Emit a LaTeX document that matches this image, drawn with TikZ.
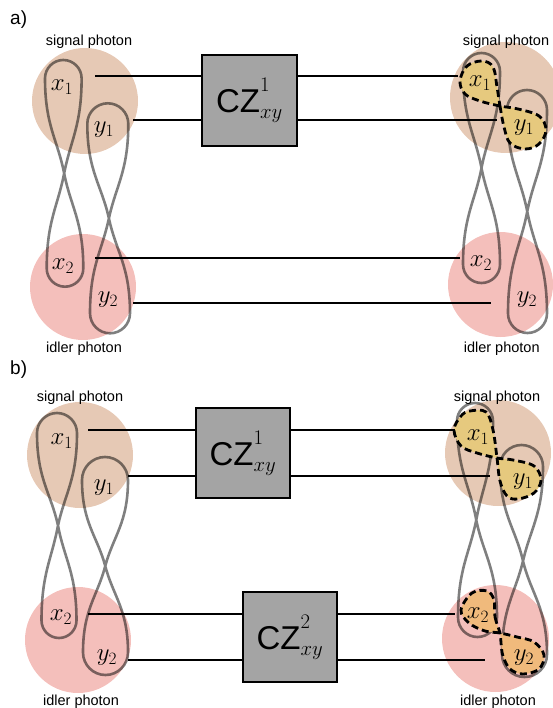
\documentclass[tikz,border=0pt]{standalone}
\usepackage{fontspec}
\newfontfamily\lab{Liberation Sans}
\DeclareMathSizes{28}{28}{16}{12}
\definecolor{sigcol}{HTML}{E6C9B5}
\definecolor{idlcol}{HTML}{F4BFBB}
\definecolor{yelcol}{HTML}{E6C97E}
\definecolor{orgcol}{HTML}{F0BA7C}
\definecolor{gatefill}{HTML}{A4A4A4}
\newcommand\gatescripts[1]{{}^{\raisebox{12pt}{\fontsize{21}{24}\selectfont$#1$}}_{\mbox{\fontsize{21}{24}\selectfont$xy$}}}
\newcommand\figeightloop[6]{%
 \pgfmathsetmacro\fxa{#1}\pgfmathsetmacro\fya{#2}\pgfmathsetmacro\fwa{#3}%
 \pgfmathsetmacro\fxb{#4}\pgfmathsetmacro\fyb{#5}\pgfmathsetmacro\fwb{#6}%
 \pgfmathsetmacro\fmx{(\fxa+\fxb)/2}\pgfmathsetmacro\fmy{(\fya+\fyb)/2}%
 \pgfmathsetmacro\fLa{\fmy-\fya-\fwa}\pgfmathsetmacro\fLb{\fyb-\fwb-\fmy}%
 \draw[loopline] (\fmx,\fmy)
   .. controls ({\fmx+0.35*\fwa},{\fmy-0.35*\fLa}) and ({\fxa+\fwa},{\fya+\fwa+0.5*\fLa}) .. ({\fxa+\fwa},{\fya+\fwa})
   .. controls ({\fxa+\fwa},{\fya+0.45*\fwa}) and ({\fxa+0.55*\fwa},{\fya}) .. (\fxa,\fya)
   .. controls ({\fxa-0.55*\fwa},{\fya}) and ({\fxa-\fwa},{\fya+0.45*\fwa}) .. ({\fxa-\fwa},{\fya+\fwa})
   .. controls ({\fxa-\fwa},{\fya+\fwa+0.5*\fLa}) and ({\fmx-0.35*\fwa},{\fmy-0.35*\fLa}) .. (\fmx,\fmy)
   .. controls ({\fmx+0.35*\fwb},{\fmy+0.35*\fLb}) and ({\fxb+\fwb},{\fyb-\fwb-0.5*\fLb}) .. ({\fxb+\fwb},{\fyb-\fwb})
   .. controls ({\fxb+\fwb},{\fyb-0.45*\fwb}) and ({\fxb+0.55*\fwb},{\fyb}) .. (\fxb,\fyb)
   .. controls ({\fxb-0.55*\fwb},{\fyb}) and ({\fxb-\fwb},{\fyb-0.45*\fwb}) .. ({\fxb-\fwb},{\fyb-\fwb})
   .. controls ({\fxb-\fwb},{\fyb-\fwb-0.5*\fLb}) and ({\fmx-0.35*\fwb},{\fmy+0.35*\fLb}) .. (\fmx,\fmy) -- cycle;}
\begin{document}
\begin{tikzpicture}[x=1pt,y=-1pt,
 loopline/.style={draw=black, draw opacity=0.5, line width=2.6pt},
 wire/.style={line width=1.4pt},
 gate/.style={draw=black, fill=gatefill, line width=1.4pt, minimum width=94pt, minimum height=90pt, inner sep=0pt},
 blob/.style={draw=black, line width=2.8pt, dash pattern=on 7pt off 4pt},
 qlabel/.style={inner sep=0pt, font=\fontsize{28}{32}\selectfont},
 photon/.style={font=\lab\fontsize{14.5}{17}\selectfont, anchor=base, inner sep=0pt},
 panel/.style={font=\lab\fontsize{19}{22}\selectfont, anchor=base west, inner sep=0pt},
 gatetext/.style={font=\lab\fontsize{33}{40}\selectfont}]
\useasboundingbox (0,0) rectangle (553,708);
\clip (0,0) rectangle (553,708);
% photon circles
\fill[sigcol] (85,101) circle[radius=53];
\fill[idlcol] (83,287) circle[radius=53];
\fill[sigcol] (505.5,97.5) circle[radius=55.5];
\fill[idlcol] (500.5,284.5) circle[radius=52.5];
\fill[sigcol] (80,455) circle[radius=53];
\fill[idlcol] (78,640) circle[radius=53];
\fill[sigcol] (498,453) circle[radius=53];
\fill[idlcol] (495.5,638.5) circle[radius=53.5];
% loops
\figeightloop{63.3}{60}{18.3}{65}{286.7}{18.3}
\figeightloop{107.8}{103.3}{20.5}{110}{333.3}{20}
\figeightloop{481.5}{53}{18.5}{481.5}{283}{18.5}
\figeightloop{527}{90}{20}{527.5}{333}{19.5}
\figeightloop{57}{413}{20}{59}{638}{17.5}
\figeightloop{105}{457}{23}{105.5}{675}{22.5}
\figeightloop{475}{403}{18}{477.5}{637}{19.5}
\figeightloop{521.5}{445}{21.5}{524.5}{677}{22.5}
% dashed entangled regions
\draw[blob, fill=yelcol] plot[smooth cycle, tension=0.6] coordinates {(497,87) (500,106) (504,127) (510,143) (525,149) (539,144) (546,130) (539,116) (518,109) (500,106) (480,101) (465,94) (460,81) (467,66) (482,61) (493,67)};
\draw[blob, fill=yelcol] plot[smooth cycle, tension=0.6] coordinates {(493,430) (497,458) (500,481) (507,496) (518,499) (534,493) (541,480) (534,466) (513,460) (497,458) (477,453) (461,446) (454,430) (461,416) (470,411) (486,412)};
\draw[blob, fill=orgcol] plot[smooth cycle, tension=0.6] coordinates {(494,600) (495,617) (500,633) (501,643) (503,656) (510,669) (523,674) (539,669) (544,655) (534,642) (517,637) (500,633) (485,631) (469,623) (461,610) (472,593) (487,591)};
% mode labels
\node[qlabel] (ax1) at (62,87) {$x_1$};
\node[qlabel] (ay1) at (104,130) {$y_1$};
\node[qlabel] (ax2) at (63,266) {$x_2$};
\node[qlabel] (ay2) at (108,300) {$y_2$};
\node[qlabel] (rx1) at (480,83) {$x_1$};
\node[qlabel] (ry1) at (524,128) {$y_1$};
\node[qlabel] (rx2) at (481,263) {$x_2$};
\node[qlabel] (ry2) at (527,300) {$y_2$};
\node[qlabel] (bx1) at (61.7,440.8) {$x_1$};
\node[qlabel] (by1) at (104,488) {$y_1$};
\node[qlabel] (bx2) at (61,617) {$x_2$};
\node[qlabel] (by2) at (107,657.5) {$y_2$};
\node[qlabel] (sx1) at (478,437.5) {$x_1$};
\node[qlabel] (sy1) at (523,481.7) {$y_1$};
\node[qlabel] (sx2) at (478,615) {$x_2$};
\node[qlabel] (sy2) at (524,658) {$y_2$};
% photon names and panel letters
\node[photon] (as) at (89,46) {signal photon};
\node[photon] (ai) at (84,352) {idler photon};
\node[photon] (asr) at (506,46) {signal photon};
\node[photon] (air) at (501.7,352) {idler photon};
\node[photon] (bs) at (80,401) {signal photon};
\node[photon] (bi) at (81,705.5) {idler photon};
\node[photon] (bsr) at (497,401) {signal photon};
\node[photon] (bir) at (498,705.5) {idler photon};
\node[panel] (pa) at (10,25) {a)};
\node[panel] (pb) at (10,374) {b)};
% gates
\node[gate, gatetext, minimum width=95pt, minimum height=91pt] (ga) at (249.5,100.5) {CZ$\gatescripts{1}$};
\node[gate, gatetext] (gb1) at (243,453) {CZ$\gatescripts{1}$};
\node[gate, gatetext] (gb2) at (290,637) {CZ$\gatescripts{2}$};
% wires panel a
\coordinate (a1s) at (95,76);   \coordinate (a1e) at (458,76);
\coordinate (a2s) at (133,120); \coordinate (a2e) at (497,120);
\coordinate (a3s) at (95,258);  \coordinate (a3e) at (460,258);
\coordinate (a4s) at (133,303); \coordinate (a4e) at (491,303);
\draw[wire] (a1s) -- (a1s -| ga.west);
\draw[wire] (a1s -| ga.east) -- (a1e);
\draw[wire] (a2s) -- (a2s -| ga.west);
\draw[wire] (a2s -| ga.east) -- (a2e);
\draw[wire] (a3s) -- (a3e);
\draw[wire] (a4s) -- (a4e);
% wires panel b
\coordinate (b1s) at (88,430);  \coordinate (b1e) at (455,430);
\coordinate (b2s) at (128,476); \coordinate (b2e) at (490,476);
\coordinate (b3s) at (88,614);  \coordinate (b3e) at (455,614);
\coordinate (b4s) at (128,660); \coordinate (b4e) at (485,660);
\draw[wire] (b1s) -- (b1s -| gb1.west);
\draw[wire] (b1s -| gb1.east) -- (b1e);
\draw[wire] (b2s) -- (b2s -| gb1.west);
\draw[wire] (b2s -| gb1.east) -- (b2e);
\draw[wire] (b3s) -- (b3s -| gb2.west);
\draw[wire] (b3s -| gb2.east) -- (b3e);
\draw[wire] (b4s) -- (b4s -| gb2.west);
\draw[wire] (b4s -| gb2.east) -- (b4e);
\end{tikzpicture}
\end{document}
